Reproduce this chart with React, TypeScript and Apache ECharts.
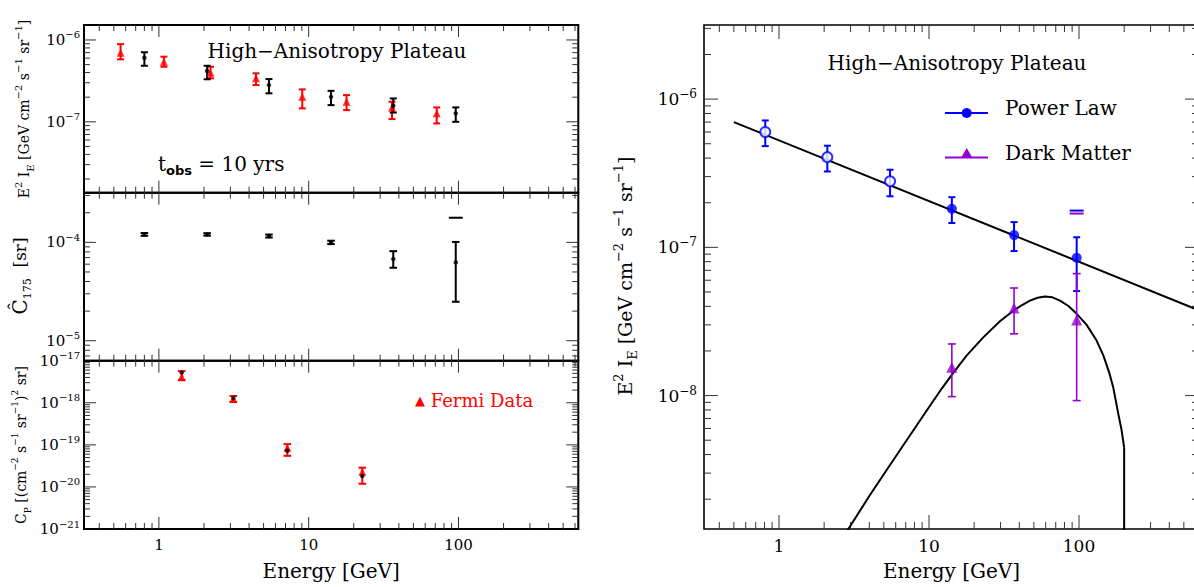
import React, { useEffect, useRef } from "react";
import * as echarts from "echarts";

const FONT = "DejaVu Serif";
const X_MIN = Math.pow(10, -0.5);
const X_MAX = Math.pow(10, 2.8);

// ---------- top-left panel: E^2 I_E ----------
const fermiE = [0.555, 1.08, 2.21, 4.45, 9.06, 17.9, 36.0, 71.6];
const fermiFlux = [7.0e-7, 5.42e-7, 3.98e-7, 3.4e-7, 2.02e-7, 1.76e-7, 1.5e-7, 1.27e-7];
const fermiFluxHi = [8.9e-7, 6.25e-7, 4.7e-7, 3.91e-7, 2.49e-7, 2.12e-7, 1.76e-7, 1.5e-7];
const fermiFluxLo = [5.8e-7, 4.71e-7, 3.4e-7, 2.81e-7, 1.46e-7, 1.39e-7, 1.08e-7, 9.55e-8];

const simE = [0.8, 2.1, 5.43, 14.1, 36.7, 95.9];
const simFlux = [6.07e-7, 4.18e-7, 2.81e-7, 2.02e-7, 1.57e-7, 1.27e-7];
const simFluxHi = [7.08e-7, 4.84e-7, 3.33e-7, 2.39e-7, 1.93e-7, 1.5e-7];
const simFluxLo = [4.84e-7, 3.31e-7, 2.23e-7, 1.6e-7, 1.3e-7, 1.0e-7];

// ---------- middle-left panel: C_175 ----------
const c175 = [1.205e-4, 1.205e-4, 1.16e-4, 1.0e-4, 6.76e-5, 6.26e-5];
const c175Hi = [1.245e-4, 1.24e-4, 1.2e-4, 1.04e-4, 8.14e-5, 1.01e-4];
const c175Lo = [1.165e-4, 1.17e-4, 1.12e-4, 0.96e-4, 5.52e-5, 2.49e-5];
const c175LimitE = [96];
const c175Limit = [1.78e-4];

// ---------- bottom-left panel: C_P ----------
const cpE = [1.42, 3.14, 7.2, 22.8];
const cpSim = [5.27e-18, 1.3e-18, 7.22e-20, 1.82e-20];
const cpFermi = [4.13e-18, 1.25e-18, 8.5e-20, 2.3e-20];
const cpFermiHi = [5.66e-18, 1.45e-18, 1.04e-19, 2.87e-20];
const cpFermiLo = [3.44e-18, 1.04e-18, 5.48e-20, 1.19e-20];
// the C_P axis runs in units of 1e-17 (ECharts rounds tiny numbers to 0)
const CP_EXP = 17;
const CP_SCALE = Math.pow(10, CP_EXP);

// ---------- right panel ----------
const fitE = [0.81, 2.1, 5.5, 14.2, 36.9, 96.5];
const plFlux = [6.0e-7, 4.06e-7, 2.79e-7, 1.82e-7, 1.21e-7, 8.51e-8];
const plHi = [7.18e-7, 4.85e-7, 3.34e-7, 2.18e-7, 1.48e-7, 1.17e-7];
const plLo = [4.82e-7, 3.25e-7, 2.21e-7, 1.46e-7, 9.44e-8, 5.07e-8];
const plOpen = [true, true, true, false, false, false];

const dmE = [14.2, 36.9, 96.5];
const dmFlux = [1.55e-8, 3.9e-8, 3.24e-8];
const dmHi = [2.23e-8, 5.32e-8, 6.65e-8];
const dmLo = [9.84e-9, 2.61e-8, 9.25e-9];

const limitE = [96.5];
const plLimit = [1.77e-7];
const dmLimit = [1.69e-7];

const powerLawE = [0.5, 631];
const powerLawY = [7.0e-7, 3.76e-8];

const dmCurveE = [2.5, 2.9, 4.0, 5.22, 7.1, 9.66, 12.2, 14.1, 17.8, 23, 29.7, 36.5, 42, 47.1, 53, 59.3, 66.5, 74.7, 85, 96.5, 112.5, 131, 145.5, 160, 169, 182.8, 192, 200];
const dmCurveY = [1.0e-9, 1.26e-9, 2.1e-9, 3.15e-9, 5.0e-9, 7.93e-9, 1.12e-8, 1.37e-8, 1.86e-8, 2.47e-8, 3.17e-8, 3.74e-8, 4.1e-8, 4.37e-8, 4.57e-8, 4.66e-8, 4.6e-8, 4.37e-8, 4.02e-8, 3.56e-8, 3.0e-8, 2.35e-8, 1.86e-8, 1.4e-8, 1.14e-8, 7.53e-9, 5.9e-9, 4.48e-9];
const dmCutE = [200, 200];
const dmCutY = [4.48e-9, 1.0e-9];

// axis ranges (y) per panel (bottom-left one in units of 1e-17)
const yRanges: number[][] = [
  [Math.pow(10, -7.866), Math.pow(10, -5.817)],
  [Math.pow(10, -5.203), Math.pow(10, -3.495)],
  [1e-21 * CP_SCALE, 1e-17 * CP_SCALE],
  [Math.pow(10, -8.9), Math.pow(10, -5.5)],
];
const yExpOffset = [0, 0, -CP_EXP, 0];

const zip = (a: number[], ...rest: number[][]) => a.map((v, i) => [v, ...rest.map((r) => r[i])]);
const sc = (a: number[]) => a.map((v) => v * CP_SCALE);

function logTicks(min: number, max: number) {
  const out: number[][] = [];
  const n0 = Math.floor(Math.log10(min));
  const n1 = Math.ceil(Math.log10(max));
  for (let n = n0; n <= n1; n++) {
    for (let m = 1; m <= 9; m++) {
      const v = m * Math.pow(10, n);
      if (v > min * 1.0001 && v < max / 1.0001) out.push([v, m === 1 ? 1 : 0]);
    }
  }
  return out;
}

const SUP = (size: number) => ({ fontSize: size, fontFamily: FONT, lineHeight: size, verticalAlign: "top" as const });
const SUB = (size: number) => ({ fontSize: size, fontFamily: FONT, lineHeight: size, verticalAlign: "bottom" as const });

const powLabel = (offset: number) => (v: number) => {
  const l = Math.log10(v);
  const e = Math.round(l);
  if (Math.abs(l - e) > 1e-6) return "";
  const ex = e + offset;
  return `{b|10}{s|${ex < 0 ? "\u2212" : ""}${Math.abs(ex)}}`;
};
function xLabel(v: number) {
  const l = Math.log10(v);
  const e = Math.round(l);
  if (Math.abs(l - e) > 1e-6 || e < 0) return "";
  return String(Math.round(Math.pow(10, e)));
}

export default function App() {
  const ref = useRef<HTMLDivElement>(null);
  useEffect(() => {
    if (!ref.current) return;
    const chart = echarts.init(ref.current, undefined, { renderer: "svg" });

    const grids = [
      { left: 84, top: 25, width: 494.3, height: 167.7 },
      { left: 84, top: 192.7, width: 494.3, height: 168 },
      { left: 84, top: 360.7, width: 494.3, height: 168.3 },
      { left: 704, top: 25, width: 495, height: 504 },
    ].map((g, i) => ({
      ...g,
      show: true,
      borderColor: "#000",
      borderWidth: i === 3 ? 1.6 : 2,
      backgroundColor: "transparent",
    }));

    const xAxes = grids.map((_, i) => ({
      type: "log",
      logBase: 10,
      gridIndex: i,
      min: X_MIN,
      max: X_MAX,
      axisLine: { show: false },
      axisTick: { show: false },
      splitLine: { show: false },
      axisLabel: {
        show: i >= 2,
        interval: 0,
        margin: 8,
        formatter: xLabel,
        fontFamily: FONT,
        fontSize: i === 3 ? 17 : 15,
        color: "#000",
        showMinLabel: false,
        showMaxLabel: false,
      },
      name: i >= 2 ? "Energy [GeV]" : "",
      nameLocation: "middle",
      nameGap: 32,
      nameTextStyle: { fontFamily: FONT, fontSize: 20, color: "#000" },
    }));

    const yAxes = grids.map((_, i) => {
      const big = i === 3;
      return {
        type: "log",
        logBase: 10,
        gridIndex: i,
        min: yRanges[i][0],
        max: yRanges[i][1],
        axisLine: { show: false },
        axisTick: { show: false },
        splitLine: { show: false },
        axisLabel: {
          show: true,
          interval: 0,
          margin: big ? 7 : 4,
          formatter: powLabel(yExpOffset[i]),
          showMinLabel: i === 2,
          showMaxLabel: i === 2,
          color: "#000",
          rich: {
            b: { fontSize: big ? 17 : 15, fontFamily: FONT, lineHeight: big ? 22 : 20, verticalAlign: "middle" },
            s: SUP(big ? 12 : 10),
          },
        },
      };
    });

    const tickRender = (majorLen: number, minorLen: number) => (params: any, api: any) => {
      const cs = params.coordSys;
      const p = api.coord([api.value(0), api.value(1)]);
      const isY = api.value(2) === 1;
      const len = api.value(3) === 1 ? majorLen : minorLen;
      const style = { stroke: "#333", lineWidth: 1 };
      if (!isY) {
        const x = p[0];
        return {
          type: "group",
          children: [
            { type: "line", shape: { x1: x, y1: cs.y + cs.height, x2: x, y2: cs.y + cs.height - len }, style },
            { type: "line", shape: { x1: x, y1: cs.y, x2: x, y2: cs.y + len }, style },
          ],
        };
      }
      const y = p[1];
      return {
        type: "group",
        children: [
          { type: "line", shape: { x1: cs.x, y1: y, x2: cs.x + len, y2: y }, style },
          { type: "line", shape: { x1: cs.x + cs.width, y1: y, x2: cs.x + cs.width - len, y2: y }, style },
        ],
      };
    };

    const tickSeries = grids.map((_, i) => {
      const yRef = Math.sqrt(yRanges[i][0] * yRanges[i][1]);
      const data: number[][] = [];
      logTicks(X_MIN, X_MAX).forEach(([v, m]) => data.push([v, yRef, 0, m]));
      logTicks(yRanges[i][0], yRanges[i][1]).forEach(([v, m]) => data.push([10, v, 1, m]));
      return {
        type: "custom",
        xAxisIndex: i,
        yAxisIndex: i,
        silent: true,
        renderItem: i === 3 ? tickRender(14, 7) : tickRender(12, 6),
        data,
        z: 1,
      };
    });

    const errRender = (color: string, lw: number, cap: number) => (params: any, api: any) => {
      const x = api.value(0);
      const lo = api.coord([x, api.value(1)]);
      const hi = api.coord([x, api.value(2)]);
      const style = { stroke: color, lineWidth: lw };
      return {
        type: "group",
        children: [
          { type: "line", shape: { x1: lo[0], y1: lo[1], x2: hi[0], y2: hi[1] }, style },
          { type: "line", shape: { x1: lo[0] - cap, y1: lo[1], x2: lo[0] + cap, y2: lo[1] }, style },
          { type: "line", shape: { x1: hi[0] - cap, y1: hi[1], x2: hi[0] + cap, y2: hi[1] }, style },
        ],
      };
    };
    const errSeries = (gi: number, data: number[][], color: string, lw: number, cap: number) => ({
      type: "custom",
      xAxisIndex: gi,
      yAxisIndex: gi,
      renderItem: errRender(color, lw, cap),
      encode: { x: 0, y: [1, 2] },
      data,
      z: 3,
    });
    const limitRender = (color: string, half: number) => (params: any, api: any) => {
      const p = api.coord([api.value(0), api.value(1)]);
      return {
        type: "line",
        shape: { x1: p[0] - half, y1: p[1], x2: p[0] + half, y2: p[1] },
        style: { stroke: color, lineWidth: 2 },
      };
    };
    const limitSeries = (gi: number, data: number[][], color: string) => ({
      type: "custom",
      xAxisIndex: gi,
      yAxisIndex: gi,
      renderItem: limitRender(color, 7),
      data,
      z: 3,
    });
    const scatter = (gi: number, data: any[], symbol: string, size: number, color: string, z = 4) => ({
      type: "scatter",
      xAxisIndex: gi,
      yAxisIndex: gi,
      symbol,
      symbolSize: size,
      itemStyle: { color },
      data,
      z,
    });

    const RED = "#ff0000";
    const BLUE = "#0000ff";
    const PURPLE = "#9400d3";

    const series: any[] = [
      ...tickSeries,
      // top-left
      errSeries(0, zip(fermiE, fermiFluxLo, fermiFluxHi), RED, 2, 3.5),
      errSeries(0, zip(simE, simFluxLo, simFluxHi), "#000", 2, 3.5),
      scatter(0, zip(fermiE, fermiFlux), "triangle", 8, RED),
      scatter(0, zip(simE, simFlux), "circle", 4.5, "#000", 5),
      // middle-left
      errSeries(1, zip(simE, c175Lo, c175Hi), "#000", 2, 3.8),
      scatter(1, zip(simE, c175), "circle", 4.5, "#000"),
      limitSeries(1, zip(c175LimitE, c175Limit), "#000"),
      // bottom-left
      errSeries(2, zip(cpE, sc(cpFermiLo), sc(cpFermiHi)), RED, 2, 3.8),
      scatter(2, zip(cpE, sc(cpFermi)), "triangle", 8, RED),
      scatter(2, zip(cpE, sc(cpSim)), "circle", 4.5, "#000", 5),
      // right
      {
        type: "line",
        xAxisIndex: 3,
        yAxisIndex: 3,
        data: zip(powerLawE, powerLawY),
        showSymbol: false,
        lineStyle: { color: "#000", width: 2 },
        z: 2,
      },
      {
        type: "line",
        xAxisIndex: 3,
        yAxisIndex: 3,
        data: zip(dmCurveE, dmCurveY),
        showSymbol: false,
        smooth: false,
        lineStyle: { color: "#000", width: 2, join: "round" },
        z: 2,
      },
      {
        type: "line",
        xAxisIndex: 3,
        yAxisIndex: 3,
        data: zip(dmCutE, dmCutY),
        showSymbol: false,
        lineStyle: { color: "#000", width: 2 },
        z: 2,
      },
      errSeries(3, zip(fitE, plLo, plHi), BLUE, 2, 3.5),
      errSeries(3, zip(dmE, dmLo, dmHi), PURPLE, 1.6, 4),
      {
        type: "scatter",
        xAxisIndex: 3,
        yAxisIndex: 3,
        symbol: "circle",
        symbolSize: 10,
        data: fitE.map((e, i) => ({
          value: [e, plFlux[i]],
          itemStyle: plOpen[i]
            ? { color: "#fff", borderColor: BLUE, borderWidth: 2 }
            : { color: BLUE, borderColor: BLUE, borderWidth: 0 },
        })),
        z: 4,
      },
      scatter(3, zip(dmE, dmFlux), "triangle", 11, PURPLE),
      limitSeries(3, zip(limitE, plLimit), BLUE),
      limitSeries(3, zip(limitE, dmLimit), PURPLE),
    ];

    const txt = (size: number, extra: any = {}) => ({ fontSize: size, fontFamily: FONT, fill: "#000", ...extra });

    const graphic: any[] = [
      // panel titles
      { type: "text", x: 337, y: 51, style: { text: "High\u2212Anisotropy Plateau", align: "center", verticalAlign: "middle", ...txt(20) } },
      { type: "text", x: 957, y: 63, style: { text: "High\u2212Anisotropy Plateau", align: "center", verticalAlign: "middle", ...txt(20) } },
      // t_obs
      {
        type: "text",
        x: 158,
        y: 164,
        style: {
          text: "{n|t}{sub|obs}{n| = 10 yrs}",
          align: "left",
          verticalAlign: "middle",
          rich: {
            n: { fontSize: 20, fontFamily: FONT, lineHeight: 26, verticalAlign: "middle", fill: "#000" },
            sub: { fontSize: 13, fontFamily: "DejaVu Sans", fontWeight: "bold", lineHeight: 12, verticalAlign: "bottom", fill: "#000" },
          },
        },
      },
      // Fermi Data legend
      {
        type: "text",
        x: 415,
        y: 400,
        style: {
          text: "{t|\u25B2}{n| Fermi Data}",
          align: "left",
          verticalAlign: "middle",
          rich: {
            t: { fontSize: 13, fontFamily: "DejaVu Sans", fill: "#ff0000" },
            n: { fontSize: 18, fontFamily: FONT, fill: "#ff0000" },
          },
        },
      },
      // right legend
      { type: "line", shape: { x1: 945, y1: 113, x2: 988, y2: 113 }, style: { stroke: "#0000ff", lineWidth: 2 } },
      { type: "circle", shape: { cx: 966.7, cy: 113, r: 5 }, style: { fill: "#0000ff" } },
      { type: "text", x: 1005, y: 108, style: { text: "Power Law", align: "left", verticalAlign: "middle", ...txt(20) } },
      { type: "line", shape: { x1: 945, y1: 157.5, x2: 988, y2: 157.5 }, style: { stroke: "#9400d3", lineWidth: 2 } },
      { type: "polygon", shape: { points: [[966.7, 148], [972.5, 158], [960.9, 158]] }, style: { fill: "#9400d3" } },
      { type: "text", x: 1005, y: 153, style: { text: "Dark Matter", align: "left", verticalAlign: "middle", ...txt(20) } },
    ];

    const rotTitle = (x: number, y: number, text: string, size: number, sup: number) => ({
      type: "text",
      x,
      y,
      rotation: Math.PI / 2,
      style: {
        text,
        align: "center",
        verticalAlign: "middle",
        rich: {
          n: { fontSize: size, fontFamily: FONT, lineHeight: size + 8, verticalAlign: "middle", fill: "#000" },
          p: { ...SUP(sup), fill: "#000" },
          d: { ...SUB(sup), fill: "#000" },
          h: { fontSize: size + 3, fontFamily: FONT, lineHeight: size + 8, verticalAlign: "middle", fill: "#000" },
        },
      },
    });
    const eTitle = "{n|E}{p|2}{n| I}{d|E}{n| [GeV cm}{p|\u22122}{n| s}{p|\u22121}{n| sr}{p|\u22121}{n|]}";
    graphic.push(rotTitle(24, 109, eTitle, 14, 10));
    graphic.push(rotTitle(20, 276, "{h|\u0108}{d|175}{n|  [sr]}", 17, 11));
    graphic.push(
      rotTitle(21, 445, "{n|C}{d|P}{n| [(cm}{p|\u22122}{n| s}{p|\u22121}{n| sr}{p|\u22121}{n|)}{p|2}{n| sr]}", 14, 9)
    );
    graphic.push(rotTitle(625, 276, eTitle, 19, 13));

    chart.setOption({
      animation: false,
      backgroundColor: "#fff",
      textStyle: { fontFamily: FONT },
      grid: grids,
      xAxis: xAxes,
      yAxis: yAxes,
      series,
      graphic,
    });
    return () => chart.dispose();
  }, []);

  return (
    <div style={{ position: "fixed", left: 0, top: 0, width: 1194, height: 587, overflow: "hidden", background: "#fff" }}>
      <div ref={ref} style={{ width: 1210, height: 587 }} />
    </div>
  );
}
